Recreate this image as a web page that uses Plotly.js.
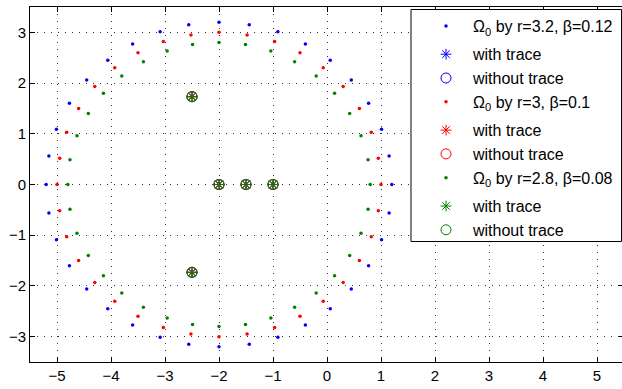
<!DOCTYPE html>
<html>
<head>
<meta charset="utf-8">
<script src="https://cdn.plot.ly/plotly-3.0.1.min.js"></script>
<style>
html,body{margin:0;padding:0;overflow:hidden;background:#fff;}
#plot{width:626px;height:389px;}
</style>
</head>
<body>
<div id="plot"></div>
<script>
// Ring of Omega_0, r = 3.2, beta = 0.12 (blue)
const ringBlueX = [1.20, 1.15, 1.01, 0.77, 0.45, 0.06, -0.40, -0.91, -1.44, -2.00, -2.56, -3.09, -3.60, -4.06, -4.45, -4.77, -5.01, -5.15,
                   -5.20, -5.15, -5.01, -4.77, -4.45, -4.06, -3.60, -3.09, -2.56, -2.00, -1.44, -0.91, -0.40, 0.06, 0.45, 0.77, 1.01, 1.15];
const ringBlueY = [0.00, 0.56, 1.09, 1.60, 2.06, 2.45, 2.77, 3.01, 3.15, 3.20, 3.15, 3.01, 2.77, 2.45, 2.06, 1.60, 1.09, 0.56,
                   0.00, -0.56, -1.09, -1.60, -2.06, -2.45, -2.77, -3.01, -3.15, -3.20, -3.15, -3.01, -2.77, -2.45, -2.06, -1.60, -1.09, -0.56];
// Ring of Omega_0, r = 3, beta = 0.1 (red)
const ringRedX = [1.00, 0.95, 0.82, 0.60, 0.30, -0.07, -0.50, -0.97, -1.48, -2.00, -2.52, -3.03, -3.50, -3.93, -4.30, -4.60, -4.82, -4.95,
                  -5.00, -4.95, -4.82, -4.60, -4.30, -3.93, -3.50, -3.03, -2.52, -2.00, -1.48, -0.97, -0.50, -0.07, 0.30, 0.60, 0.82, 0.95];
const ringRedY = [0.00, 0.52, 1.03, 1.50, 1.93, 2.30, 2.60, 2.82, 2.95, 3.00, 2.95, 2.82, 2.60, 2.30, 1.93, 1.50, 1.03, 0.52,
                  0.00, -0.52, -1.03, -1.50, -1.93, -2.30, -2.60, -2.82, -2.95, -3.00, -2.95, -2.82, -2.60, -2.30, -1.93, -1.50, -1.03, -0.52];
// Ring of Omega_0, r = 2.8, beta = 0.08 (green)
const ringGreenX = [0.80, 0.76, 0.63, 0.42, 0.14, -0.20, -0.60, -1.04, -1.51, -2.00, -2.49, -2.96, -3.40, -3.80, -4.14, -4.42, -4.63, -4.76,
                    -4.80, -4.76, -4.63, -4.42, -4.14, -3.80, -3.40, -2.96, -2.49, -2.00, -1.51, -1.04, -0.60, -0.20, 0.14, 0.42, 0.63, 0.76];
const ringGreenY = [0.00, 0.49, 0.96, 1.40, 1.80, 2.14, 2.42, 2.63, 2.76, 2.80, 2.76, 2.63, 2.42, 2.14, 1.80, 1.40, 0.96, 0.49,
                    0.00, -0.49, -0.96, -1.40, -1.80, -2.14, -2.42, -2.63, -2.76, -2.80, -2.76, -2.63, -2.42, -2.14, -1.80, -1.40, -0.96, -0.49];
// Eigenvalues with / without trace (same for all three settings)
const traceX = [-2.5, -2.0, -1.5, -1.0, -2.5];
const traceY = [1.732, 0, 0, 0, -1.732];

const seriesNames = ['Ω<sub>0</sub> by r=3.2, β=0.12', 'Ω<sub>0</sub> by r=3, β=0.1', 'Ω<sub>0</sub> by r=2.8, β=0.08'];
const withName = 'with trace';
const withoutName = 'without trace';
const colors = ['#0000ff', '#ff0000', '#008000'];
const rings = [[ringBlueX, ringBlueY], [ringRedX, ringRedY], [ringGreenX, ringGreenY]];

// legend groups only used to add the extra space below each Ω row
const data = [];
for (let i = 0; i < 3; i++) {
  data.push({x: rings[i][0], y: rings[i][1], mode: 'markers', type: 'scatter', name: seriesNames[i],
             legendgroup: 'g' + i,
             marker: {symbol: 'circle', size: 3.5, color: colors[i]}});
  data.push({x: traceX, y: traceY, mode: 'markers', type: 'scatter', name: withName,
             legendgroup: 'g' + (i + 1),
             marker: {symbol: 'asterisk-open', size: 9, color: colors[i], line: {color: colors[i], width: 1}}});
  data.push({x: traceX, y: traceY, mode: 'markers', type: 'scatter', name: withoutName,
             legendgroup: 'g' + (i + 1),
             marker: {symbol: 'circle-open', size: 10, color: colors[i], line: {color: colors[i], width: 1}}});
}

const axisCommon = {
  showline: true, linecolor: '#000', linewidth: 1, mirror: 'ticks',
  ticks: 'inside', ticklen: 5, tickcolor: '#000', tickwidth: 1,
  showgrid: true, gridcolor: '#333', gridwidth: 1, griddash: '1px,6px',
  zeroline: false, dtick: 1,
  tickfont: {family: 'Liberation Sans, Arial, sans-serif', size: 15, color: '#000'}
};

const L = 30, T = 7, PW = 594, PH = 355;
const px2x = p => (p - L) / PW;
const px2y = p => 1 - (p - T) / PH;

const layout = {
  width: 626, height: 389, autosize: false,
  margin: {l: L, r: 2, t: T, b: 27, pad: 0},
  paper_bgcolor: '#fff', plot_bgcolor: '#fff',
  showlegend: true,
  xaxis: Object.assign({}, axisCommon, {range: [-5.5, 5.5], tick0: 0}),
  yaxis: Object.assign({}, axisCommon, {range: [-3.5, 3.5], tick0: 0}),
  shapes: [{type: 'rect', xref: 'paper', yref: 'paper', layer: 'above',
            x0: px2x(411), x1: px2x(621.5), y0: px2y(241.5), y1: px2y(9.5),
            fillcolor: '#fff', line: {color: '#000', width: 1}}],
  legend: {
    x: px2x(419), xanchor: 'left', y: px2y(9), yanchor: 'top',
    bgcolor: 'rgba(0,0,0,0)', borderwidth: 0,
    font: {family: 'Liberation Sans, Arial, sans-serif', size: 16, color: '#000'},
    itemwidth: 44, traceorder: 'grouped', tracegroupgap: 4.5
  }
};

Plotly.newPlot('plot', data, layout, {displayModeBar: false, staticPlot: true});
</script>
</body>
</html>
